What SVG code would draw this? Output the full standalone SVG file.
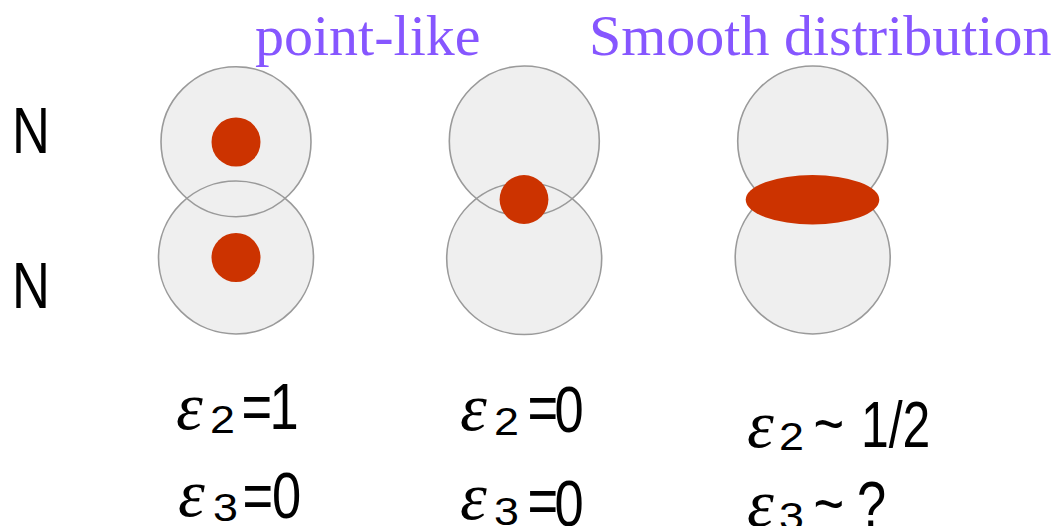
<svg xmlns="http://www.w3.org/2000/svg" width="1064" height="526" viewBox="0 0 1064 526">
<style>
.bg{fill:#efefef;stroke:none}
.ring{fill:none;stroke:#9a9a9a;stroke-width:1.6}
.dot{fill:#cc3300}
.title{font-family:"Liberation Serif","Times New Roman",serif;font-size:58px;fill:#8656ff}
.big{font-family:"Liberation Sans",Arial,sans-serif;font-size:64px;fill:#000}
.eps{font-family:"Liberation Serif","Times New Roman",serif;font-style:italic;font-size:68px;fill:#000}
.sub{font-family:"Liberation Sans",Arial,sans-serif;font-size:38px;fill:#000}
</style>
<rect width="1064" height="526" fill="#ffffff"/>
<g id="titles">
<text class="title" x="255" y="55">point-like</text>
<text class="title" x="589" y="55">Smooth distribution</text>
</g>
<g id="labels-N">
<text class="big" transform="translate(12,153.3) scale(0.82,1)">N</text>
<text class="big" transform="translate(12,308.3) scale(0.82,1)">N</text>
</g>
<g id="node-pointlike-separated">
<circle class="bg" cx="236" cy="141.7" r="75"/>
<ellipse class="bg" cx="236" cy="257.5" rx="77.5" ry="76.5"/>
<circle class="ring" cx="236" cy="141.7" r="75"/>
<ellipse class="ring" cx="236" cy="257.5" rx="77.5" ry="76.5"/>
<circle class="dot" cx="236" cy="142" r="24.5"/>
<circle class="dot" cx="236" cy="257.5" r="24.5"/>
</g>
<g id="node-pointlike-merged">
<circle class="bg" cx="524.3" cy="141" r="75"/>
<ellipse class="bg" cx="524.2" cy="258.5" rx="77.5" ry="76"/>
<circle class="ring" cx="524.3" cy="141" r="75"/>
<ellipse class="ring" cx="524.2" cy="258.5" rx="77.5" ry="76"/>
<circle class="dot" cx="524" cy="199.5" r="24.4"/>
</g>
<g id="node-smooth">
<circle class="bg" cx="812.7" cy="141" r="75"/>
<ellipse class="bg" cx="812.7" cy="257.5" rx="77.5" ry="76.5"/>
<circle class="ring" cx="812.7" cy="141" r="75"/>
<ellipse class="ring" cx="812.7" cy="257.5" rx="77.5" ry="76.5"/>
<ellipse class="dot" cx="812.5" cy="199.7" rx="66.8" ry="24.7"/>
</g>
<g id="values-col1">
<text class="eps" x="176" y="429">ε</text>
<text class="sub" transform="translate(210,432.7) scale(1.18,1)">2</text>
<text class="big" transform="translate(241.5,428.5) scale(0.82,1)">=</text>
<text class="big" transform="translate(269.5,428.5) scale(0.82,1)">1</text>
<text class="eps" x="178" y="516">ε</text>
<text class="sub" transform="translate(213,521) scale(1.18,1)">3</text>
<text class="big" transform="translate(242.5,518) scale(0.82,1)">=</text>
<text class="big" transform="translate(272,518) scale(0.82,1)">0</text>
</g>
<g id="values-col2">
<text class="eps" x="460" y="430">ε</text>
<text class="sub" transform="translate(494,435) scale(1.18,1)">2</text>
<text class="big" transform="translate(527.5,430) scale(0.82,1)">=</text>
<text class="big" transform="translate(554.5,432) scale(0.82,1)">0</text>
<text class="eps" x="460" y="519">ε</text>
<text class="sub" transform="translate(494,525) scale(1.18,1)">3</text>
<text class="big" transform="translate(527.5,523) scale(0.82,1)">=</text>
<text class="big" transform="translate(554.5,526) scale(0.82,1)">0</text>
</g>
<g id="values-col3">
<text class="eps" x="747" y="447">ε</text>
<text class="sub" transform="translate(779,450) scale(1.18,1)">2</text>
<text class="big" transform="translate(813.5,446) scale(0.82,1)">~</text>
<text class="big" transform="translate(861,446.7) scale(0.78,1)">1/2</text>
<text class="eps" x="747" y="526">ε</text>
<text class="sub" transform="translate(779,530) scale(1.18,1)">3</text>
<text class="big" transform="translate(813.5,526) scale(0.82,1)">~</text>
<text class="big" transform="translate(857,527) scale(0.82,1)">?</text>
</g>
</svg>
